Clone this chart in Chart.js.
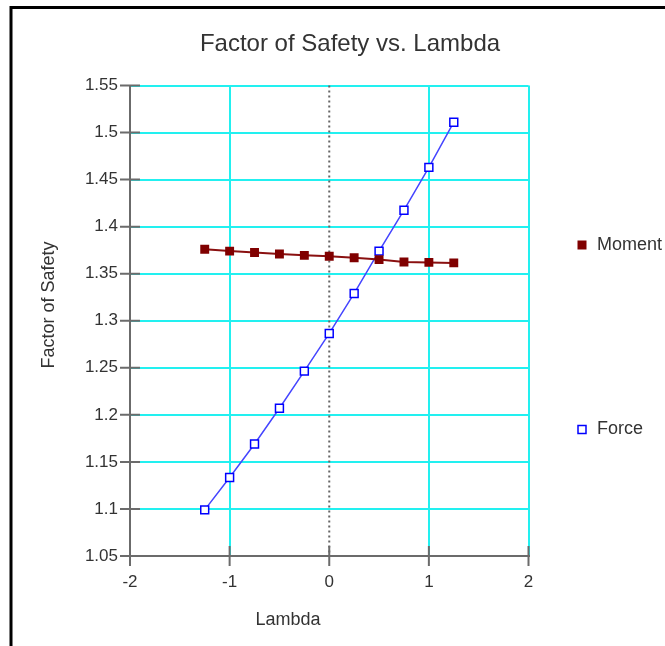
<!DOCTYPE html>
<html>
<head>
<meta charset="utf-8">
<script src="https://cdn.jsdelivr.net/npm/chart.js@4.4.1/dist/chart.umd.min.js"></script>
<style>
    html, body { margin: 0; padding: 0; background: #fff; }
    #wrap { position: relative; width: 665px; height: 646px; }
</style>
</head>
<body>
<div id="wrap"><canvas id="fosChart"></canvas></div>
<script>
const lambdaValues = [-1.25, -1, -0.75, -0.5, -0.25, 0, 0.25, 0.5, 0.75, 1, 1.25];
const momentValues = [1.376, 1.374, 1.3725, 1.371, 1.3695, 1.3685, 1.367, 1.365, 1.3625, 1.362, 1.3615];
const forceValues = [1.099, 1.1335, 1.169, 1.207, 1.2465, 1.2865, 1.329, 1.374, 1.4175, 1.463, 1.511];
const xTicks = [-2, -1, 0, 1, 2];
const yTicks = [1.05, 1.1, 1.15, 1.2, 1.25, 1.3, 1.35, 1.4, 1.45, 1.5, 1.55];

const FONT = "'Liberation Sans', Arial, sans-serif";
const TEXT = '#333';
const AXIS = '#6b6b6b';
const GRID = '#22f0f0';

function toPoints(ys) {
    return lambdaValues.map((x, i) => ({ x: x, y: ys[i] }));
}

// frame, dotted zero line, crossing ticks, titles and legend
const decorPlugin = {
    id: 'decor',
    beforeDraw(chart) {
        const c = chart.ctx;
        c.save();
        c.fillStyle = '#fff';
        c.fillRect(0, 0, chart.width, chart.height);
        c.strokeStyle = '#000';
        c.lineWidth = 3;
        c.strokeRect(11, 7.5, chart.width + 40, chart.height + 40);
        c.restore();
    },
    beforeDatasetsDraw(chart) {
        const c = chart.ctx;
        const area = chart.chartArea;
        const xs = chart.scales.x, ys = chart.scales.y;
        c.save();
        const x0 = xs.getPixelForValue(0);
        c.strokeStyle = '#666';
        c.lineWidth = 2;
        c.setLineDash([2, 3]);
        c.beginPath();
        c.moveTo(x0, area.top);
        c.lineTo(x0, area.bottom);
        c.stroke();
        c.setLineDash([]);
        c.strokeStyle = AXIS;
        c.beginPath();
        yTicks.forEach(v => {
            const py = ys.getPixelForValue(v);
            c.moveTo(area.left - 10, py);
            c.lineTo(area.left + 10, py);
        });
        xTicks.forEach(v => {
            const px = xs.getPixelForValue(v);
            c.moveTo(px, area.bottom - 10);
            c.lineTo(px, area.bottom + 10);
        });
        c.stroke();
        c.restore();
    },
    afterDraw(chart) {
        const c = chart.ctx;
        c.save();
        c.fillStyle = TEXT;
        c.textAlign = 'center';
        c.textBaseline = 'middle';
        c.font = '24px ' + FONT;
        c.fillText('Factor of Safety vs. Lambda', 350, 44);
        c.font = '18px ' + FONT;
        c.fillText('Lambda', 288, 620);
        c.save();
        c.translate(49, 305);
        c.rotate(-Math.PI / 2);
        c.fillText('Factor of Safety', 0, 0);
        c.restore();

        // legend
        c.textAlign = 'left';
        c.font = '18px ' + FONT;
        c.fillStyle = '#800000';
        c.fillRect(577.5, 240.5, 9, 9);
        c.fillStyle = TEXT;
        c.fillText('Moment', 597, 245);
        c.fillStyle = '#fff';
        c.strokeStyle = '#0000ff';
        c.lineWidth = 1.5;
        c.fillRect(578, 425.5, 8, 8);
        c.strokeRect(578, 425.5, 8, 8);
        c.fillStyle = TEXT;
        c.fillText('Force', 597, 429);
        c.restore();
    }
};

document.addEventListener('DOMContentLoaded', function () {
    const ctx = document.getElementById('fosChart');
    new Chart(ctx, {
        type: 'scatter',
        data: {
            datasets: [{
                label: 'Moment',
                data: toPoints(momentValues),
                showLine: true,
                borderColor: '#8a1010',
                borderWidth: 2,
                backgroundColor: '#800000',
                pointStyle: 'rect',
                pointRadius: 6.3,
                pointHoverRadius: 6.3,
                pointBorderWidth: 0
            }, {
                label: 'Force',
                data: toPoints(forceValues),
                showLine: true,
                borderColor: '#4545ff',
                borderWidth: 1.5,
                pointStyle: 'rect',
                pointRadius: 5.6,
                pointHoverRadius: 5.6,
                pointBackgroundColor: '#fff',
                pointBorderColor: '#0000ff',
                pointBorderWidth: 1.5
            }]
        },
        options: {
            responsive: true,
            maintainAspectRatio: false,
            animation: false,
            layout: {
                padding: { top: 85.5, right: 136.5, bottom: 0, left: 0 }
            },
            plugins: {
                legend: { display: false },
                title: { display: false },
                tooltip: { enabled: false }
            },
            scales: {
                x: {
                    type: 'linear',
                    min: -2,
                    max: 2,
                    afterBuildTicks: s => { s.ticks = xTicks.map(v => ({ value: v })); },
                    afterFit: s => { s.height = 90; },
                    ticks: {
                        color: TEXT,
                        font: { family: FONT, size: 17 },
                        padding: 16,
                        maxRotation: 0,
                        autoSkip: false,
                        callback: v => String(v)
                    },
                    grid: {
                        drawTicks: false,
                        lineWidth: 2,
                        color: c => (c.tick && (c.tick.value === 0 || c.tick.value === -2)) ? 'rgba(0,0,0,0)' : GRID
                    },
                    border: { color: AXIS, width: 2 }
                },
                y: {
                    type: 'linear',
                    min: 1.05,
                    max: 1.55,
                    afterBuildTicks: s => { s.ticks = yTicks.map(v => ({ value: v })); },
                    afterFit: s => { s.width = 130; },
                    ticks: {
                        color: TEXT,
                        font: { family: FONT, size: 17 },
                        padding: 12,
                        autoSkip: false,
                        callback: v => String(Number(v.toFixed(2)))
                    },
                    grid: {
                        drawTicks: false,
                        lineWidth: 2,
                        color: c => (c.tick && c.tick.value === 1.05) ? 'rgba(0,0,0,0)' : GRID
                    },
                    border: { color: AXIS, width: 2 }
                }
            }
        },
        plugins: [decorPlugin]
    });
});
</script>
</body>
</html>
